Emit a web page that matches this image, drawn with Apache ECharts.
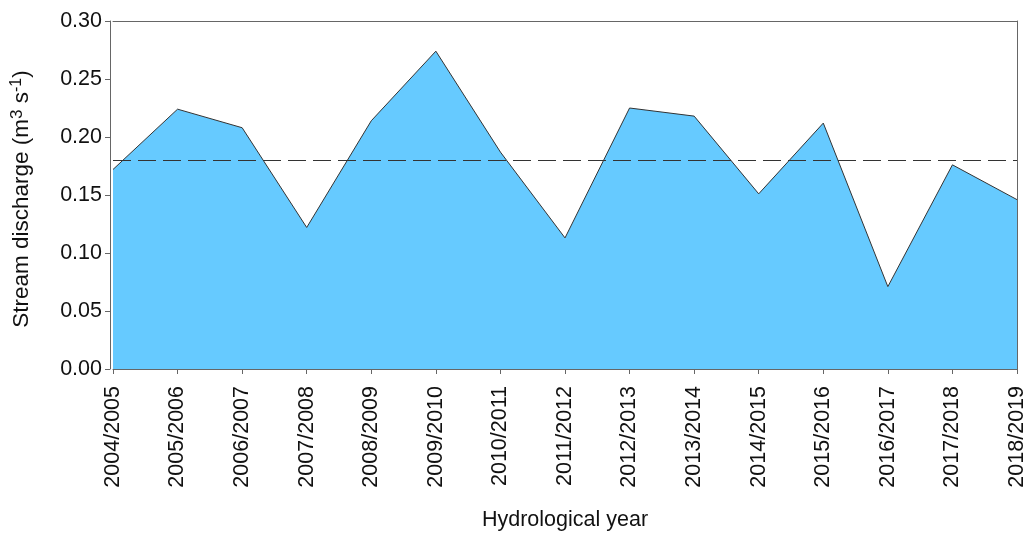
<!DOCTYPE html>
<html>
<head>
<meta charset="utf-8">
<script src="https://cdn.jsdelivr.net/npm/echarts@6/dist/echarts.min.js"></script>
<style>
html,body{margin:0;padding:0;background:#fff;}
#chart{width:1028px;height:536px;}
</style>
</head>
<body>
<div id="chart"></div>
<script>
const categories = ['2004/2005','2005/2006','2006/2007','2007/2008','2008/2009','2009/2010','2010/2011','2011/2012','2012/2013','2013/2014','2014/2015','2015/2016','2016/2017','2017/2018','2018/2019'];
const discharge = [0.172,0.224,0.208,0.122,0.214,0.274,0.187,0.113,0.225,0.218,0.151,0.212,0.071,0.176,0.146];
const meanDischarge = 0.18;
const yTicks = [0,0.05,0.10,0.15,0.20,0.25,0.30];

const FONT = 'Liberation Sans, Arial, sans-serif';
const AX = '#666';
const chart = echarts.init(document.getElementById('chart'));
chart.setOption({
  animation: false,
  grid: {left: 113, right: 9, top: 21, bottom: 164},
  xAxis: [{
    type: 'category',
    data: categories,
    boundaryGap: false,
    axisLine: {lineStyle: {color: AX, width: 1}},
    axisTick: {show: true, length: 5, alignWithLabel: true, lineStyle: {color: AX}},
    axisLabel: {rotate: 90, margin: 17, fontSize: 21.5, color: '#111', fontFamily: FONT, interval: 0},
    name: 'Hydrological year',
    nameLocation: 'middle',
    nameGap: 140,
    nameTextStyle: {fontSize: 21.5, color: '#111', fontFamily: FONT},
    splitLine: {show: false}
  }, {
    type: 'category',
    position: 'top',
    data: categories,
    boundaryGap: false,
    axisLine: {show: true, onZero: false, lineStyle: {color: AX, width: 1}},
    axisTick: {show: false},
    axisLabel: {show: false}
  }],
  yAxis: [{
    type: 'value',
    min: yTicks[0],
    max: yTicks[yTicks.length - 1],
    interval: 0.05,
    offset: 3,
    axisLine: {show: true, lineStyle: {color: AX, width: 1}},
    axisTick: {show: true, length: 5, lineStyle: {color: AX}},
    axisLabel: {fontSize: 21.5, color: '#111', fontFamily: FONT, margin: 8, formatter: v => v.toFixed(2)},
    splitLine: {show: false},
    name: 'Stream discharge (m{sup3|3} s{sup|-1})',
    nameLocation: 'middle',
    nameRotate: 90,
    nameGap: 75,
    nameTextStyle: {
      fontSize: 22.5, color: '#111', fontFamily: FONT, padding: [0, 8, 0, 0],
      rich: {
        sup3: {fontSize: 17, color: '#111', fontFamily: FONT, verticalAlign: 'top', padding: [0,0,9,0]},
        sup: {fontSize: 16, color: '#111', fontFamily: FONT, verticalAlign: 'top', padding: [0,0,10,0]}
      }
    }
  }, {
    type: 'value',
    position: 'right',
    min: yTicks[0],
    max: yTicks[yTicks.length - 1],
    interval: 0.05,
    axisLine: {show: true, onZero: false, lineStyle: {color: AX, width: 1}},
    axisTick: {show: false},
    axisLabel: {show: false},
    splitLine: {show: false}
  }],
  series: [{
    type: 'line',
    data: discharge,
    symbol: 'none',
    lineStyle: {color: '#333', width: 1},
    areaStyle: {color: '#66CAFF', opacity: 1},
    markLine: {
      silent: true,
      symbol: 'none',
      label: {show: false},
      lineStyle: {color: '#333', width: 1.2, type: [18, 7]},
      data: [{yAxis: meanDischarge}]
    }
  }]
});
</script>
</body>
</html>
